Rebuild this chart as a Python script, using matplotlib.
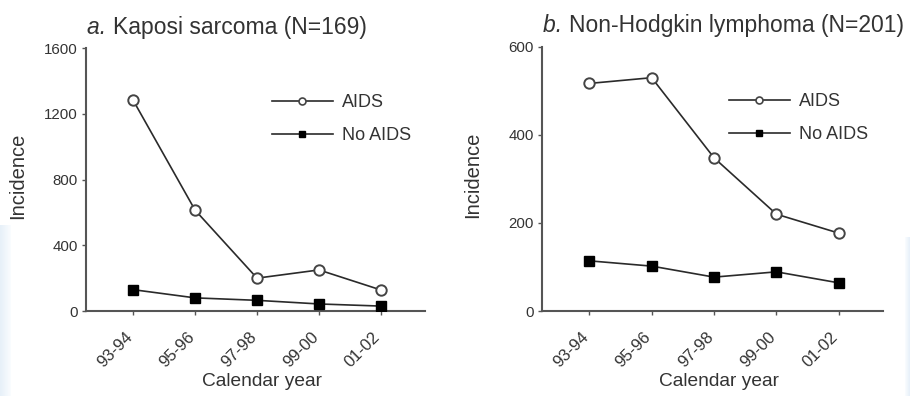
import numpy as np
import matplotlib
matplotlib.use('Agg')
import matplotlib.pyplot as plt
from matplotlib.lines import Line2D

plt.rcParams['font.family'] = ['Liberation Sans', 'DejaVu Sans']

YEARS = ['93-94', '95-96', '97-98', '99-00', '01-02']

KS_AIDS = [1283, 614, 200, 250, 128]
KS_NO_AIDS = [130, 80, 65, 43, 30]

NHL_AIDS = [517, 530, 348, 220, 177]
NHL_NO_AIDS = [114, 102, 77, 89, 64]

TEXT = '#333333'
AXIS = '#555555'
LINE = '#2a2a2a'


def main():
    fig = plt.figure(figsize=(9.1, 3.96), dpi=100)
    fig.patch.set_facecolor('white')

    add_background(fig)

    ax_a = fig.add_axes([0.0945, 0.2146, 0.3725, 0.664])
    ax_b = fig.add_axes([0.5956, 0.2146, 0.3747, 0.667])

    draw_panel(ax_a, KS_AIDS, KS_NO_AIDS, 1600, [0, 400, 800, 1200, 1600],
               'Kaposi sarcoma (N=169)', 'a.')
    draw_panel(ax_b, NHL_AIDS, NHL_NO_AIDS, 600, [0, 200, 400, 600],
               'Non-Hodgkin lymphoma (N=201)', 'b.')

    fig.savefig('out.png', dpi=100, facecolor='white')
    plt.close('all')


def add_background(fig):
    # faint blue fades at the page edges
    bg = fig.add_axes([0, 0, 1, 1], zorder=-10)
    bg.set_xlim(0, 910)
    bg.set_ylim(396, 0)
    bg.axis('off')
    grad = np.linspace(1, 0, 50).reshape(1, -1)
    bg.imshow(grad, extent=[0, 11, 396, 225], cmap='Blues', vmin=0, vmax=6,
              aspect='auto', alpha=0.6)
    bg.imshow(grad[:, ::-1], extent=[905, 910, 396, 237], cmap='Blues', vmin=0, vmax=6,
              aspect='auto', alpha=0.6)


def draw_panel(ax, aids, no_aids, ymax, yticks, title, letter):
    fig = ax.figure
    x = np.arange(len(YEARS))
    ax.plot(x, aids, color=LINE, lw=1.2, marker='o', ms=7.5,
            mfc='white', mec='#444444', mew=1.4, zorder=3)
    ax.plot(x, no_aids, color=LINE, lw=1.2, marker='s', ms=6.5,
            mfc='black', mec='black', zorder=3)

    ax.set_xlim(-0.76, 4.71)
    ax.set_ylim(0, ymax)
    ax.set_xticks(x)
    ax.set_xticklabels(YEARS, rotation=45, ha='right', va='baseline',
                       rotation_mode='anchor', fontsize=12, color=TEXT)
    ax.set_yticks(yticks)
    ax.set_yticklabels([str(t) for t in yticks], fontsize=10.8, color=TEXT)

    for side in ['top', 'right']:
        ax.spines[side].set_visible(False)
    for side in ['left', 'bottom']:
        ax.spines[side].set_color(AXIS)
        ax.spines[side].set_linewidth(1.5)
    ax.tick_params(direction='out', length=3, width=1, color=AXIS, pad=3)
    ax.tick_params(axis='x', pad=16)
    ax.set_facecolor('none')

    ax.set_ylabel('Incidence', fontsize=14.5, color=TEXT)
    ax.yaxis.set_label_coords(-0.175, 0.515)
    ax.set_xlabel('Calendar year', fontsize=13.8, color=TEXT)
    ax.xaxis.set_label_coords(0.52, -0.235)

    # title: italic panel letter followed by the plain title
    lt = ax.text(0.003, 1.055, letter + ' ', transform=ax.transAxes, fontsize=16.5,
                 style='italic', color=TEXT, ha='left', va='baseline')
    fig.canvas.draw()
    r = fig.canvas.get_renderer()
    w_letter = lt.get_window_extent(r).width / ax.get_window_extent(r).width
    ax.text(0.003 + w_letter, 1.055, title, transform=ax.transAxes, fontsize=16.5,
            color=TEXT, ha='left', va='baseline')

    handles = [
        Line2D([], [], color=LINE, lw=1.2, marker='o', ms=5, mfc='white',
               mec='#444444', mew=1.2),
        Line2D([], [], color=LINE, lw=1.2, marker='s', ms=5, mfc='black', mec='black'),
    ]
    ax.legend(handles, ['AIDS', 'No AIDS'], loc='upper left',
              bbox_to_anchor=(0.526, 0.852), frameon=False, fontsize=13,
              handlelength=3.4, handletextpad=0.5, labelspacing=0.89,
              labelcolor=TEXT, borderaxespad=0)


if __name__ == '__main__':
    main()
